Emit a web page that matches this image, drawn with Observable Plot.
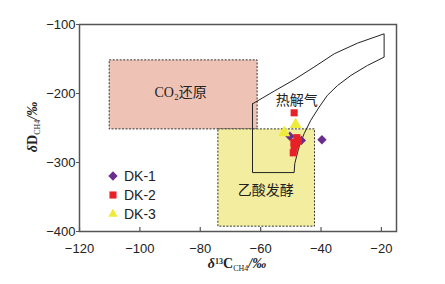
<!DOCTYPE html>
<html><head><meta charset="utf-8">
<script src="https://cdn.jsdelivr.net/npm/d3@7"></script>
<script src="https://cdn.jsdelivr.net/npm/@observablehq/plot@0.6"></script>
<style>
html,body{margin:0;padding:0;background:#fff;}
#chart{position:relative;width:445px;height:284px;}
</style></head>
<body><div id="chart"></div>
<script>
// series
const dk1 = [[-50.3,-262],[-46.5,-268],[-39.7,-267]];
const dk2 = [[-48.9,-228],[-48.0,-264],[-47.6,-269],[-49.0,-271],[-48.4,-275],[-48.9,-280],[-49.2,-286]];
const dk3 = [[-48.4,-245],[-52.2,-257]];
// zones
const co2Zone = {x1:-110, x2:-61, y1:-252, y2:-152};
const aceticZone = {x1:-74, x2:-42, y1:-393, y2:-252};
const thermoPoly = [
  [-62.7,-215],[-55.5,-196.5],[-48.9,-180],[-42.3,-161.7],[-35.6,-142.4],[-27.9,-127],[-19.1,-113.5],
  [-19.1,-147.3],[-24.6,-159.3],[-30.1,-173.8],[-34.5,-188.3],[-37.9,-202.7],[-40.6,-219.6],[-43.4,-238.9],
  [-45.6,-258.2],[-47.3,-277.5],[-48.7,-301.6],[-48.9,-314.6],[-62.7,-314.6],[-62.7,-215]
];
const zoneLabels = [
  {x:-86.5, y:-198, text:"CO₂还原"},
  {x:-48, y:-210, text:"热解气"},
  {x:-58.3, y:-341, text:"乙酸发酵"}
];
const xTicks = [-120,-100,-80,-60,-40,-20];
const yTicks = [-100,-200,-300,-400];
const series = [
  {name:"DK-1", data:dk1, symbol:"diamond2", color:"#6b2d8c", r:4.2},
  {name:"DK-2", data:dk2, symbol:"square", color:"#e62128", r:4},
  {name:"DK-3", data:dk3, symbol:"triangle", color:"#eeeb3c", r:4.5}
];

const sans = "Liberation Sans, Arial, sans-serif";
const serif = "Liberation Serif, Noto Sans CJK SC, serif";

const plot = Plot.plot({
  width:445, height:284,
  marginLeft:79, marginRight:49, marginTop:24, marginBottom:53,
  style:{fontFamily:sans, fontSize:"13px", color:"#222", background:"#fff"},
  x:{domain:[-120,-15], label:null},
  y:{domain:[-400,-100], label:null},
  marks:[
    Plot.rect([co2Zone], {x1:"x1",x2:"x2",y1:"y1",y2:"y2", fill:"#eec3b6", stroke:"#333", strokeDasharray:"2,1.5", strokeWidth:1}),
    Plot.rect([aceticZone], {x1:"x1",x2:"x2",y1:"y1",y2:"y2", fill:"#f3ee9f", stroke:"#333", strokeDasharray:"2,1.5", strokeWidth:1}),
    Plot.line(thermoPoly, {x:d=>d[0], y:d=>d[1], stroke:"#222", strokeWidth:1, curve:"linear"}),
    ...series.map(s => Plot.dot(s.data, {x:d=>d[0], y:d=>d[1], symbol:()=>s.symbol, fill:s.color, r:s.r, stroke:"none"})),
    Plot.text(zoneLabels, {x:"x", y:"y", text:"text", fontFamily:serif, fontSize:14, fill:"#222"}),
    Plot.frame({stroke:"#555", strokeWidth:1.5}),
    Plot.tickX(xTicks, {x:d=>d, stroke:"#555", strokeWidth:1.2, insetTop:203}),
    Plot.axisX(xTicks, {tickSize:0, tickPadding:12, fontSize:13}),
    Plot.axisY(yTicks, {tickSize:3, tickPadding:1, stroke:"#555", fontSize:13})
  ]
});
document.getElementById("chart").appendChild(plot);

const svg = d3.select(plot);
// axis titles
const xt = svg.append("text").attr("x",237).attr("y",268).attr("text-anchor","middle")
  .attr("font-family","Liberation Serif, serif").attr("font-size",14).attr("font-weight","bold").attr("fill","#222");
xt.append("tspan").attr("font-style","italic").text("δ");
xt.append("tspan").attr("font-size",8).attr("dy",-4).text("13");
xt.append("tspan").attr("dy",4).text("C");
xt.append("tspan").attr("font-size",8).attr("font-weight","normal").attr("dy",3).text("CH4");
xt.append("tspan").attr("dy",-3).attr("font-style","italic").text("/‰");

const yt = svg.append("text").attr("transform","translate(37,127) rotate(-90)").attr("text-anchor","middle")
  .attr("font-family","Liberation Serif, serif").attr("font-size",14).attr("font-weight","bold").attr("fill","#222");
yt.append("tspan").attr("font-style","italic").text("δ");
yt.append("tspan").text("D");
yt.append("tspan").attr("font-size",8).attr("font-weight","normal").attr("dy",3).text("CH4");
yt.append("tspan").attr("dy",-3).attr("font-style","italic").text("/‰");

// legend
const lg = svg.append("g").attr("transform","translate(113,176)");
const symMap = {diamond2:d3.symbolDiamond2, square:d3.symbolSquare, triangle:d3.symbolTriangle2};
series.forEach((s,i) => {
  const g = lg.append("g").attr("transform",`translate(0,${i*19})`);
  g.append("path").attr("d", d3.symbol(symMap[s.symbol], Math.PI*s.r*s.r)()).attr("fill", s.color);
  g.append("text").attr("x",11).attr("y",5).attr("text-anchor","start").attr("font-family",sans).attr("font-size",14).attr("fill","#222").text(s.name);
});
</script></body></html>
